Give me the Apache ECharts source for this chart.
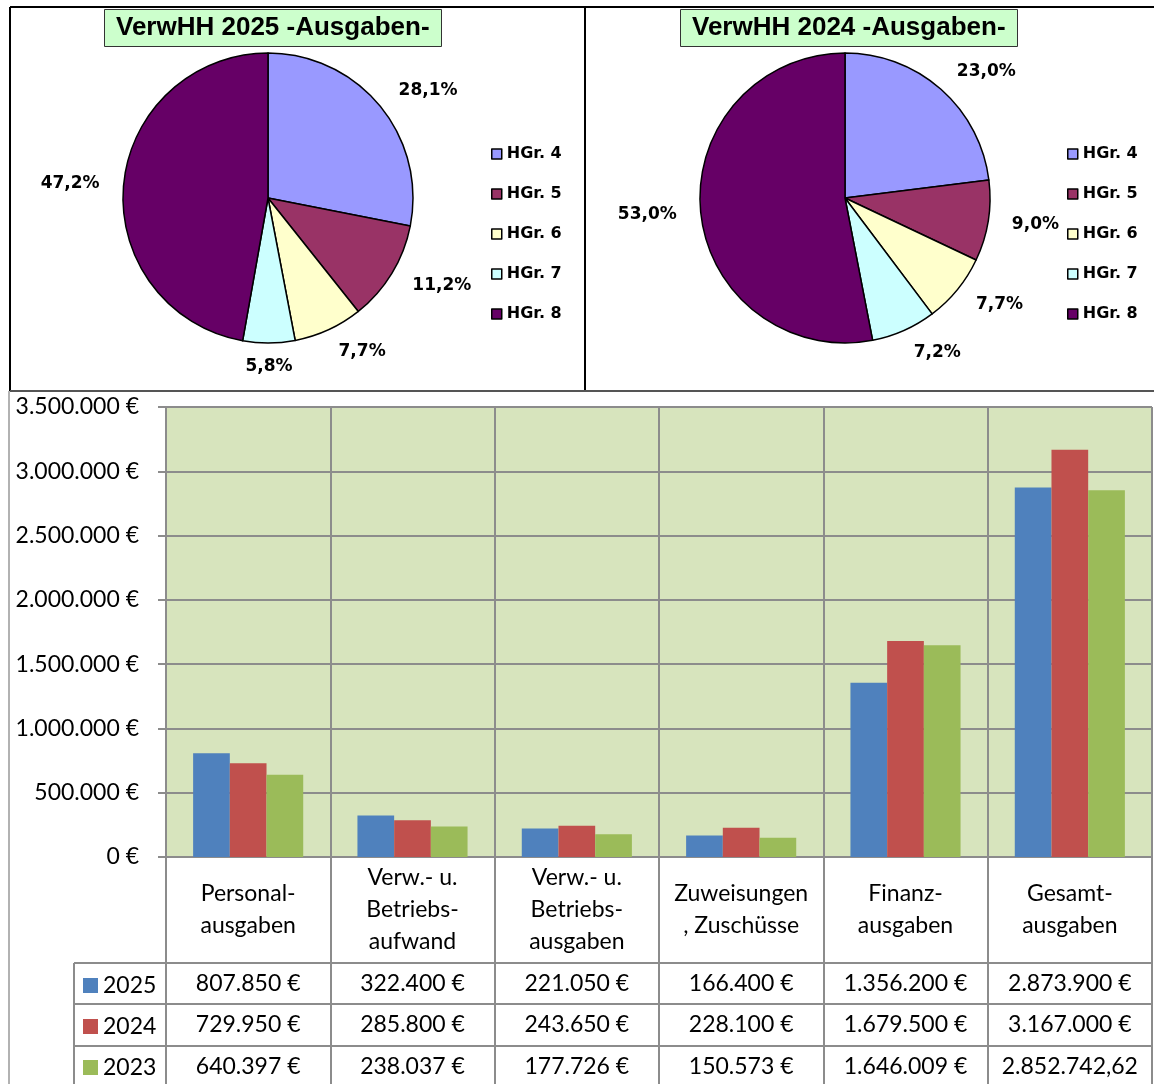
<!DOCTYPE html>
<html>
<head>
<meta charset="utf-8">
<script src="https://cdn.jsdelivr.net/npm/echarts@6/dist/echarts.min.js"></script>
<style>
  html, body { margin: 0; padding: 0; background: #fff; }
  #chart-container { width: 1154px; height: 1084px; }
</style>
</head>
<body>
<div id="chart-container"></div>
<script>
// pie data (percent of total spending per main group)
var hgrNames = ["HGr. 4", "HGr. 5", "HGr. 6", "HGr. 7", "HGr. 8"];
var share2025 = [28.1, 11.2, 7.7, 5.8, 47.2];
var share2024 = [23.0, 9.0, 7.7, 7.2, 53.0];

// bar chart + data table
var categories = [
  "Personal-\nausgaben",
  "Verw.- u.\nBetriebs-\naufwand",
  "Verw.- u.\nBetriebs-\nausgaben",
  "Zuweisungen\n, Zuschüsse",
  "Finanz-\nausgaben",
  "Gesamt-\nausgaben"
];
var years = ["2025", "2024", "2023"];
var values2025 = [807850, 322400, 221050, 166400, 1356200, 2873900];
var values2024 = [729950, 285800, 243650, 228100, 1679500, 3167000];
var values2023 = [640397, 238037, 177726, 150573, 1646009, 2852742.62];

var pieColors = ["#9999FF", "#993366", "#FFFFCC", "#CCFFFF", "#660066"];
var barColors = ["#4F81BD", "#C0504D", "#9BBB59"];
var gridColor = "#8c8c8c";

var dom = document.getElementById("chart-container");
var myChart = echarts.init(dom, null, { renderer: "canvas" });

function dots(n) {
  return String(n).replace(/\B(?=(\d{3})+(?!\d))/g, ".");
}
function euro(v) {
  var parts = v.toFixed(2).split(".");
  var s = dots(parts[0]);
  if (parts[1] !== "00") return s + "," + parts[1]; // cell too narrow, € cut off
  return s + " €";
}
function pct(v) {
  return v.toFixed(1).replace(".", ",") + "%";
}

const pieData = (vals) =>
  vals.map((v, i) => ({
    name: hgrNames[i],
    value: v,
    itemStyle: { color: pieColors[i] }
  }));

const pieSeries = (name, center, vals, fixLabel) => ({
  type: "pie",
  name: name,
  center: center,
  radius: 145,
  startAngle: 90,
  avoidLabelOverlap: false,
  data: pieData(vals),
  itemStyle: { borderColor: "#000", borderWidth: 1.5 },
  label: {
    show: true,
    position: "outside",
    distanceToLabelLine: 0,
    formatter: (p) => pct(p.value),
    fontFamily: "DejaVu Sans",
    fontWeight: "bold",
    fontSize: 17,
    color: "#000"
  },
  labelLine: { show: false, length: 24, length2: 0 },
  labelLayout: fixLabel,
  emphasis: { disabled: true }
});

const pieTitle = (text, left) => ({
  text: text,
  left: left,
  top: 9,
  backgroundColor: "#CCFFCC",
  borderColor: "#333",
  borderWidth: 1,
  padding: [5, 12],
  textStyle: {
    fontFamily: "Liberation Sans",
    fontWeight: "bold",
    fontSize: 26,
    lineHeight: 28,
    color: "#000"
  }
});

const pieLegend = (left) => ({
  orient: "vertical",
  left: left,
  top: 146,
  padding: 0,
  data: hgrNames,
  icon: "rect",
  itemWidth: 10,
  itemHeight: 10,
  itemGap: 24,
  selectedMode: false,
  itemStyle: { borderColor: "#000", borderWidth: 1.5 },
  textStyle: {
    fontFamily: "DejaVu Sans",
    fontWeight: "bold",
    fontSize: 16,
    lineHeight: 16,
    color: "#000"
  }
});

const tableFont = { fontFamily: "Lato", fontSize: 23, color: "#000" };

// legend key for one table row
const yearLegend = (name, top) => ({
  orient: "vertical",
  left: 83,
  top: top,
  padding: 0,
  data: [name],
  icon: "rect",
  itemWidth: 15,
  itemHeight: 15,
  selectedMode: false,
  textStyle: tableFont
});

// one extra x axis per table row, labels come from the row's values
const rowAxis = (vals, offset, tickLen) => ({
  type: "category",
  data: categories,
  gridIndex: 0,
  position: "bottom",
  offset: offset,
  axisLine: { show: true, lineStyle: { color: gridColor, width: 2 } },
  axisTick: { show: true, interval: 0, length: tickLen, lineStyle: { color: gridColor, width: 2 } },
  axisLabel: Object.assign({
    interval: 0,
    margin: 21,
    verticalAlign: "middle",
    formatter: (val, idx) => euro(vals[idx])
  }, tableFont),
  splitLine: { show: false }
});

const barSeries = (i, vals) => ({
  type: "bar",
  name: years[i],
  data: vals,
  itemStyle: { color: barColors[i] },
  barGap: "0%",
  barCategoryGap: "33%",
  emphasis: { disabled: true }
});

var option = {
  animation: false,
  backgroundColor: "#fff",
  title: [
    pieTitle("VerwHH 2025 -Ausgaben-", 104),
    pieTitle("VerwHH 2024 -Ausgaben-", 680)
  ],
  legend: [
    pieLegend(491),
    pieLegend(1067),
    yearLegend(years[0], 974),
    yearLegend(years[1], 1015),
    yearLegend(years[2], 1056)
  ],
  grid: {
    left: 166,
    top: 407,
    right: 2,
    bottom: 227,
    show: true,
    backgroundColor: "#D7E4BD",
    borderWidth: 0,
    containLabel: false
  },
  xAxis: [
    {
      type: "category",
      data: categories,
      position: "bottom",
      axisLine: { show: true, lineStyle: { color: gridColor, width: 2 } },
      axisTick: { show: true, interval: 0, length: 106, lineStyle: { color: gridColor, width: 2 } },
      axisLabel: Object.assign({
        interval: 0,
        margin: 53,
        verticalAlign: "middle",
        lineHeight: 32
      }, tableFont),
      splitLine: { show: true, interval: 0, lineStyle: { color: gridColor, width: 2 } }
    },
    rowAxis(values2025, 106, 41),
    rowAxis(values2024, 147, 42),
    rowAxis(values2023, 189, 40)
  ],
  yAxis: {
    type: "value",
    min: 0,
    max: 3500000,
    interval: 500000,
    axisLine: { show: true, lineStyle: { color: gridColor, width: 2 } },
    axisTick: { show: true, length: 8, lineStyle: { color: gridColor, width: 2 } },
    axisLabel: Object.assign({
      margin: 27,
      formatter: (v) => dots(v) + " €"
    }, tableFont),
    splitLine: { show: true, lineStyle: { color: gridColor, width: 2 } }
  },
  series: [
    // the small slice at the bottom gets its label centred under it
    pieSeries("VerwHH 2025", [268, 198], share2025, (p) => (p.dataIndex === 3 ? { align: "center" } : {})),
    pieSeries("VerwHH 2024", [845, 198], share2024, () => ({})),
    barSeries(0, values2025),
    barSeries(1, values2024),
    barSeries(2, values2023)
  ],
  // frames around the pie boxes and the left column of the table
  graphic: [
    { type: "line", shape: { x1: 10, y1: 7, x2: 1154, y2: 7 }, style: { stroke: "#000", lineWidth: 2 } },
    { type: "line", shape: { x1: 10, y1: 7, x2: 10, y2: 391 }, style: { stroke: "#000", lineWidth: 2 } },
    { type: "line", shape: { x1: 585, y1: 7, x2: 585, y2: 391 }, style: { stroke: "#000", lineWidth: 2 } },
    { type: "line", shape: { x1: 10, y1: 391, x2: 1154, y2: 391 }, style: { stroke: "#555", lineWidth: 2 } },
    { type: "line", shape: { x1: 9, y1: 391, x2: 9, y2: 1084 }, style: { stroke: "#999", lineWidth: 1.5 } },
    { type: "line", shape: { x1: 74, y1: 963, x2: 166, y2: 963 }, style: { stroke: gridColor, lineWidth: 2 } },
    { type: "line", shape: { x1: 74, y1: 1004, x2: 166, y2: 1004 }, style: { stroke: gridColor, lineWidth: 2 } },
    { type: "line", shape: { x1: 74, y1: 1046, x2: 166, y2: 1046 }, style: { stroke: gridColor, lineWidth: 2 } },
    { type: "line", shape: { x1: 74, y1: 963, x2: 74, y2: 1084 }, style: { stroke: gridColor, lineWidth: 2 } }
  ]
};

myChart.setOption(option);
window.addEventListener("resize", myChart.resize);
</script>
</body>
</html>
